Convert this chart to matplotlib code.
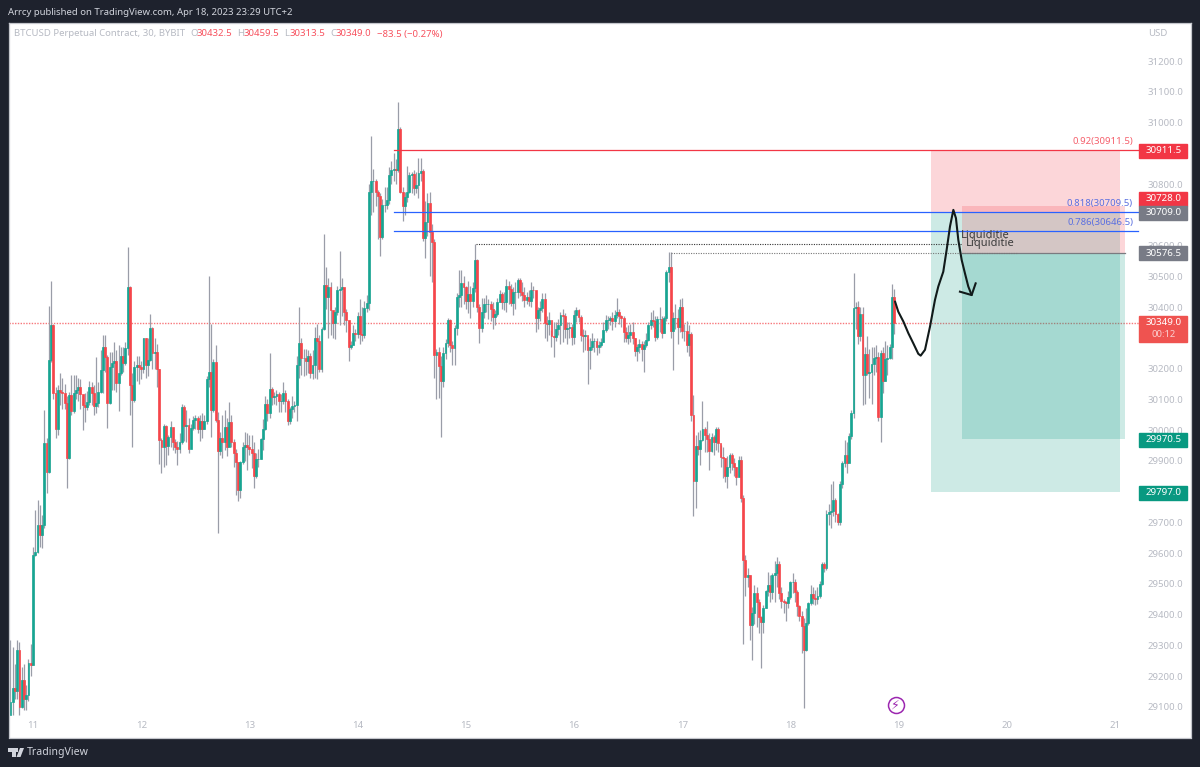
import matplotlib
matplotlib.use("Agg")
import matplotlib.pyplot as plt
from matplotlib.patches import Polygon, Rectangle
from matplotlib.transforms import blended_transform_factory

plt.rcParams['font.family'] = ['Noto Sans', 'DejaVu Sans']

FIRST_OPEN = 29073
FIRST_DAY = 10 + 38 / 48

closes = [
    29117, 29160, 29150, 29285, 29100, 29187, 29127, 29140, 29241, 29235,
    29593, 29604, 29691, 29658, 29691, 29959, 29862, 30228,
    30342, 30119, 30005, 30130, 30125, 30120, 30087, 29910,
    30114, 30062, 30120, 30130, 30141, 30117, 30081, 30076,
    30090, 30141, 30119, 30079, 30088, 30125, 30195, 30271,
    30239, 30087, 30206, 30217, 30225, 30152, 30184, 30241,
    30217, 30266, 30464, 30146, 30098, 30204, 30212, 30205,
    30200, 30298, 30211, 30228, 30331, 30250, 30255, 30198,
    29968, 29945, 30014, 29949, 29978, 30010, 29962, 29945,
    29937, 29960, 30076, 30014, 30015, 29940, 30008, 30032,
    30040, 30005, 30030, 30005, 30030, 30165, 30190, 30065,
    30222, 30032, 29932, 29973, 29960, 30010, 29945, 30025,
    29962, 29925, 29895, 29805, 29897, 29945, 29950, 29945,
    29940, 29925, 29850, 29905, 29905, 29971, 30005, 30085,
    30056, 30135, 30108, 30110, 30118, 30095, 30096, 30122,
    30095, 30030, 30070, 30078, 30080, 30210, 30282, 30233,
    30233, 30225, 30240, 30187, 30212, 30298, 30290, 30198,
    30328, 30472, 30434, 30466, 30390, 30347, 30385, 30456,
    30460, 30466, 30385, 30358, 30271, 30276, 30315, 30312,
    30372, 30311, 30308, 30396, 30412, 30775, 30810, 30810,
    30775, 30760, 30629, 30732, 30732, 30748, 30829, 30846,
    30848, 30846, 30978, 30775, 30729, 30759, 30775, 30829,
    30833, 30786, 30797, 30835, 30844, 30624, 30678, 30737,
    30645, 30610, 30244, 30255, 30208, 30158, 30250, 30282,
    30358, 30277, 30266, 30331, 30434, 30439, 30479, 30466,
    30421, 30443, 30421, 30461, 30553, 30401, 30331, 30385,
    30409, 30411, 30411, 30395, 30367, 30378, 30418, 30443,
    30418, 30418, 30468, 30458, 30412, 30450, 30450, 30488,
    30450, 30440, 30423, 30434, 30421, 30456, 30455, 30363,
    30390, 30396, 30426, 30347, 30344, 30358, 30306, 30302,
    30328, 30342, 30374, 30370, 30328, 30332, 30335, 30304,
    30374, 30390, 30369, 30309, 30306, 30308, 30260, 30271,
    30291, 30291, 30271, 30277, 30285, 30325, 30358, 30358,
    30363, 30354, 30374, 30383, 30371, 30363, 30320, 30298,
    30309, 30320, 30298, 30258, 30269, 30280, 30265, 30276,
    30293, 30342, 30358, 30355, 30304, 30361, 30361, 30317,
    30363, 30515, 30529, 30323, 30366, 30366, 30334, 30401,
    30323, 30323, 30276, 30312, 30049, 29835, 29949, 29940,
    29968, 30003, 29983, 29970, 29932, 29976, 29962, 30003,
    29959, 29913, 29908, 29850, 29881, 29919, 29892, 29880,
    29846, 29903, 29778, 29577, 29523, 29528, 29366, 29406,
    29469, 29442, 29391, 29375, 29422, 29476, 29495, 29474,
    29529, 29534, 29566, 29471, 29445, 29442, 29436, 29458,
    29505, 29505, 29474, 29429, 29396, 29364, 29285, 29371,
    29436, 29466, 29453, 29450, 29460, 29498, 29564, 29553,
    29727, 29732, 29737, 29772, 29727, 29700, 29824, 29894,
    29919, 29892, 29980, 30054, 30396, 30401, 30307, 30379,
    30179, 30246, 30184, 30190, 30214, 30235, 30239, 30043,
    30249, 30161, 30230, 30234, 30271, 30432, 30349,
]

highs = [
    29317, 29295, 29240, 29317, 29310, 29230, 29240, 29170, 29257, 29305,
    29620, 29740, 29773, 29755, 29725, 30065, 29973, 30404,
    30485, 30345, 30140, 30145, 30185, 30170, 30150, 30110,
    30125, 30180, 30178, 30178, 30168, 30165, 30115, 30120,
    30128, 30160, 30155, 30145, 30237, 30155, 30260, 30309,
    30309, 30245, 30255, 30253, 30285, 30260, 30275, 30270,
    30270, 30285, 30594, 30470, 30185, 30225, 30240, 30240,
    30225, 30300, 30300, 30300, 30377, 30335, 30300, 30280,
    30200, 29975, 30020, 30018, 29985, 30030, 30000, 29970,
    29965, 29990, 30085, 30083, 30065, 30040, 30020, 30045,
    30050, 30045, 30050, 30055, 30050, 30175, 30501, 30345,
    30230, 30275, 30060, 29995, 30050, 30065, 30040, 30090,
    30050, 29970, 29940, 29885, 29900, 29960, 29995, 29990,
    29985, 29985, 29960, 29925, 29940, 29975, 30035, 30110,
    30100, 30252, 30140, 30125, 30130, 30125, 30118, 30155,
    30130, 30100, 30075, 30110, 30095, 30240, 30400, 30300,
    30265, 30265, 30260, 30250, 30260, 30336, 30345, 30310,
    30335, 30637, 30530, 30495, 30480, 30360, 30400, 30470,
    30582, 30495, 30400, 30395, 30290, 30290, 30340, 30330,
    30385, 30425, 30400, 30420, 30440, 30800, 30957, 30850,
    30815, 30780, 30770, 30750, 30790, 30790, 30855, 30875,
    30900, 30880, 31068, 30985, 30790, 30775, 30860, 30840,
    30840, 30845, 30840, 30885, 30885, 30850, 30745, 30770,
    30775, 30670, 30620, 30265, 30270, 30240, 30270, 30295,
    30365, 30360, 30290, 30340, 30445, 30520, 30520, 30500,
    30470, 30485, 30470, 30480, 30604, 30555, 30410, 30430,
    30430, 30440, 30425, 30420, 30415, 30390, 30430, 30455,
    30450, 30450, 30490, 30485, 30475, 30465, 30480, 30495,
    30495, 30480, 30465, 30450, 30455, 30480, 30470, 30445,
    30400, 30420, 30445, 30445, 30370, 30385, 30325, 30350,
    30350, 30360, 30385, 30395, 30380, 30350, 30350, 30345,
    30390, 30400, 30395, 30375, 30330, 30325, 30295, 30300,
    30315, 30300, 30300, 30290, 30300, 30350, 30375, 30370,
    30372, 30385, 30390, 30428, 30395, 30375, 30370, 30335,
    30340, 30345, 30350, 30300, 30280, 30295, 30290, 30290,
    30315, 30350, 30385, 30390, 30370, 30370, 30400, 30370,
    30370, 30522, 30578, 30578, 30385, 30410, 30395, 30425,
    30428, 30345, 30355, 30340, 30320, 30115, 29985, 29995,
    30000, 30095, 30010, 30030, 29990, 29990, 29985, 30010,
    30010, 29950, 29945, 29870, 29915, 29925, 29925, 29910,
    29880, 29915, 29915, 29790, 29595, 29550, 29530, 29425,
    29495, 29490, 29450, 29395, 29430, 29480, 29540, 29530,
    29535, 29575, 29588, 29575, 29490, 29450, 29445, 29475,
    29510, 29535, 29515, 29480, 29430, 29410, 29390, 29420,
    29440, 29495, 29490, 29480, 29490, 29510, 29570, 29570,
    29740, 29760, 29825, 29835, 29780, 29730, 29835, 29900,
    29968, 29960, 29990, 30065, 30510, 30415, 30420, 30400,
    30400, 30270, 30305, 30265, 30270, 30270, 30275, 30255,
    30260, 30270, 30290, 30275, 30280, 30475, 30459,
]

lows = [
    29073, 29073, 29125, 29125, 29073, 29095, 29090, 29090, 29120, 29200,
    29235, 29590, 29600, 29620, 29615, 29680, 29794, 29860,
    30220, 30100, 29975, 29985, 30080, 30070, 30070, 29810,
    29905, 30050, 30055, 30100, 30095, 30070, 30000, 30027,
    30065, 30080, 30080, 30050, 30055, 30075, 30120, 30120,
    30190, 30008, 30085, 30130, 30130, 30125, 30062, 30180,
    30190, 30210, 30245, 30050, 29945, 30090, 30160, 30150,
    30165, 30185, 30170, 30175, 30225, 30200, 30200, 30140,
    29890, 29860, 29880, 29885, 29920, 29945, 29935, 29925,
    29885, 29925, 29955, 29965, 29960, 29925, 29970, 30000,
    30005, 29990, 29965, 29975, 30005, 30020, 30140, 29978,
    30060, 30025, 29664, 29920, 29910, 29935, 29915, 29965,
    29945, 29880, 29790, 29770, 29780, 29890, 29900, 29870,
    29920, 29875, 29810, 29845, 29880, 29905, 29935, 30000,
    30030, 30040, 30080, 30085, 30080, 30060, 30060, 30085,
    30060, 30015, 30020, 30040, 30060, 30030, 30170, 30180,
    30175, 30180, 30185, 30170, 30165, 30168, 30165, 30190,
    30190, 30325, 30395, 30300, 30310, 30300, 30295, 30375,
    30340, 30370, 30340, 30320, 30225, 30265, 30280, 30290,
    30300, 30280, 30290, 30300, 30385, 30390, 30700, 30710,
    30730, 30620, 30565, 30620, 30710, 30720, 30735, 30800,
    30810, 30800, 30840, 30770, 30680, 30700, 30740, 30770,
    30770, 30765, 30770, 30755, 30810, 30615, 30560, 30630,
    30500, 30480, 30170, 30100, 30105, 29979, 30140, 30230,
    30270, 30255, 30210, 30210, 30310, 30400, 30400, 30410,
    30395, 30380, 30365, 30400, 30450, 30385, 30282, 30320,
    30365, 30385, 30360, 30355, 30330, 30340, 30370, 30415,
    30395, 30390, 30385, 30410, 30405, 30375, 30395, 30430,
    30435, 30420, 30400, 30410, 30405, 30400, 30430, 30320,
    30330, 30355, 30385, 30300, 30290, 30310, 30270, 30237,
    30290, 30310, 30280, 30285, 30300, 30280, 30300, 30275,
    30280, 30350, 30350, 30290, 30255, 30260, 30150, 30200,
    30260, 30255, 30245, 30250, 30270, 30285, 30320, 30330,
    30340, 30325, 30335, 30365, 30345, 30335, 30285, 30285,
    30280, 30285, 30280, 30240, 30225, 30250, 30225, 30190,
    30270, 30290, 30330, 30335, 30290, 30295, 30320, 30300,
    30315, 30355, 30480, 30300, 30195, 30330, 30280, 30320,
    30300, 30290, 30255, 30240, 30030, 29720, 29745, 29920,
    29885, 29965, 29930, 29930, 29870, 29930, 29920, 29935,
    29930, 29880, 29845, 29830, 29810, 29860, 29870, 29850,
    29820, 29850, 29765, 29303, 29460, 29490, 29317, 29252,
    29370, 29360, 29340, 29225, 29340, 29420, 29460, 29440,
    29450, 29440, 29490, 29450, 29420, 29405, 29380, 29420,
    29450, 29470, 29440, 29395, 29380, 29275, 29095, 29280,
    29365, 29430, 29435, 29430, 29435, 29455, 29495, 29540,
    29545, 29690, 29680, 29720, 29700, 29690, 29690, 29810,
    29880, 29860, 29895, 29970, 30040, 30330, 30280, 30290,
    30080, 30085, 30180, 30105, 30085, 30180, 30190, 30030,
    29962, 30120, 30160, 30180, 30230, 30230, 30313,
]

# hand drawn path on top of the chart (day, price)
path_days = [18.967, 18.997, 19.044, 19.090, 19.136, 19.182, 19.204, 19.244, 19.290, 19.336, 19.367,
             19.413, 19.444, 19.475, 19.506, 19.530, 19.552, 19.583, 19.613, 19.644, 19.675]
path_prices = [30418, 30385, 30353, 30315, 30282, 30248, 30242, 30261, 30336, 30423, 30467,
               30515, 30586, 30662, 30716, 30689, 30618, 30553, 30510, 30467, 30439]
head_days = [19.567, 19.675, 19.712]
head_prices = [30450, 30439, 30477]

# 30900, 30700, 30300 and 29800 sit fully under the price boxes in the reference
price_ticks = [29100, 29200, 29300, 29400, 29500, 29600, 29700, 29900, 30000, 30100, 30200,
               30400, 30500, 30600, 30800, 31000, 31100, 31200]
day_ticks = [11, 12, 13, 14, 15, 16, 17, 18, 19, 20, 21]

GREEN = "#17a592"
RED = "#f6454a"
WICK = "#9a9da8"
DARK = "#1e222d"
TICK = "#b7bac3"
FS = 6.9

W, H = 1200, 767
L, R, T, B = 8.5, 1191, 23, 737.5


def px_day(px):
    return 11 + (px - 33) / 108.2


def px_price(py):
    return 30100 + (399.3 - py) * 3.252


fig = plt.figure(figsize=(W / 100, H / 100), dpi=100, facecolor=DARK)
ax = fig.add_axes([L / W, 1 - B / H, (R - L) / W, (B - T) / H])
ax.set_xlim(px_day(L), px_day(R))
ax.set_ylim(px_price(B), px_price(T))
for s in ax.spines.values():
    s.set_color("#c4c6cc")
    s.set_linewidth(0.9)

ax.yaxis.tick_right()
ax.set_yticks(price_ticks)
ax.set_yticklabels([f"{p:.1f}" for p in price_ticks])
ax.set_xticks(day_ticks)
ax.tick_params(axis='y', length=0, pad=-31, labelsize=FS, labelcolor=TICK)
ax.tick_params(axis='x', length=0, pad=-12, labelsize=FS, labelcolor=TICK)

# candles
opens = [FIRST_OPEN] + closes[:-1]
for i, (o, h, l, c) in enumerate(zip(opens, highs, lows, closes, strict=True)):
    x = FIRST_DAY + i / 48
    col = GREEN if c >= o else RED
    ax.vlines(x, l, h, color=WICK, linewidth=0.9, zorder=1.5)
    ax.bar(x, abs(c - o), bottom=min(o, c), width=0.0175, color=col, edgecolor=col, linewidth=0.5, zorder=2)

# last price line
ax.plot([px_day(L), px_day(1139)], [30349, 30349], color="#f7777b", linestyle=(0, (1, 1)), linewidth=1.0, zorder=1)

# position boxes
ax.fill_between([px_day(931), px_day(1120)], 30709, 30911.5, color="#f23645", alpha=0.2, linewidth=0, zorder=3)
ax.fill_between([px_day(931), px_day(1120)], 29797, 30709, color="#089981", alpha=0.2, linewidth=0, zorder=3)
ax.fill_between([px_day(962), px_day(1124.7)], 30576.5, 30728, color="#f23645", alpha=0.2, linewidth=0, zorder=3)
ax.fill_between([px_day(962), px_day(1124.7)], 29970.5, 30576.5, color="#089981", alpha=0.2, linewidth=0, zorder=3)

# fib levels
ax.plot([px_day(394), px_day(1138)], [30911.5, 30911.5], color="#f23645", linewidth=0.9, zorder=4)
ax.plot([px_day(394), px_day(1138)], [30709.5, 30709.5], color="#2962ff", linewidth=0.9, zorder=4)
ax.plot([px_day(394), px_day(1138)], [30646.5, 30646.5], color="#2962ff", linewidth=0.9, zorder=4)
ax.plot([px_day(962), px_day(1125)], [30576.5, 30576.5], color="#7a7a80", linewidth=0.9, zorder=4)
ax.text(px_day(1133), 30939, "0.92(30911.5)", color="#f5606c", fontsize=FS, ha='right', va='center', zorder=6)
ax.text(px_day(1133), 30737, "0.818(30709.5)", color="#5a6fe0", fontsize=FS, ha='right', va='center', zorder=6)
ax.text(px_day(1133), 30675, "0.786(30646.5)", color="#5a6fe0", fontsize=FS, ha='right', va='center', zorder=6)

# liquidity lines
ax.plot([px_day(476), px_day(962)], [30604, 30604], color="#333333", linestyle=(0, (1, 1.2)), linewidth=0.8, zorder=4)
ax.plot([px_day(671), px_day(1018)], [30577, 30577], color="#777777", linestyle=(0, (1, 1.2)), linewidth=0.8, zorder=4)
ax.text(px_day(961), px_price(235.5), "Liquiditie", color="#3c3c3c", fontsize=8, ha='left', va='center', zorder=6)
ax.text(px_day(966), px_price(243.5), "Liquiditie", color="#3c3c3c", fontsize=8, ha='left', va='center', zorder=6)

# hand drawn arrow
ax.plot(path_days, path_prices, color="#111a1a", linewidth=1.5, zorder=7, solid_capstyle='round', solid_joinstyle='round')
ax.plot(head_days, head_prices, color="#111a1a", linewidth=1.5, zorder=7)

# price labels on the scale
blend = blended_transform_factory(ax.transAxes, ax.transData)
bx = (1139.3 - L) / (R - L)
bw = 48 / (R - L)
tx = bx + bw / 2


def price_box(py, text, color):
    ax.add_patch(Rectangle((bx, px_price(py + 7)), bw, 14 * 3.252, transform=blend, color=color, zorder=8, clip_on=False))
    ax.text(tx, px_price(py), text, transform=blend, color="white", fontsize=7.0, fontweight='bold',
            ha='center', va='center', zorder=9)


price_box(150.7, "30911.5", "#f23645")
price_box(199, "30728.0", "#f23645")
price_box(213, "30709.0", "#787b86")
price_box(253.5, "30576.5", "#787b86")
price_box(440, "29970.5", "#089981")
price_box(493, "29797.0", "#089981")
ax.add_patch(Rectangle((bx, px_price(342)), bw, 26 * 3.252, transform=blend, color="#ef5350", zorder=8))
ax.text(tx, px_price(323), "30349.0", transform=blend, color="white", fontsize=7.0, fontweight='bold', ha='center', va='center', zorder=9)
ax.text(tx, px_price(335), "00:12", transform=blend, color="#fbd0d0", fontsize=6.8, ha='center', va='center', zorder=9)

# lightning marker
ax.plot([px_day(895.5)], [px_price(705)], marker='o', markersize=11.5, markerfacecolor='none',
        markeredgecolor="#9c27b0", markeredgewidth=1.1, zorder=6)
ax.text(px_day(895.5), px_price(705), "\u26a1", color="#9c27b0", fontsize=9, ha='center', va='center',
        family='DejaVu Sans', zorder=6)

# header + legend text
fig.text(8 / W, 1 - 12.5 / H, "Arrcy published on TradingView.com, Apr 18, 2023 23:29 UTC+2", color="#d1d4dc",
         fontsize=FS, ha='left', va='center')
legend = [
    (14.5, "BTCUSD Perpetual Contract, 30, BYBIT", TICK),
    (190, "O", TICK), (196.7, "30432.5", "#f7525f"),
    (237.3, "H", TICK), (244, "30459.5", "#f7525f"),
    (284.3, "L", TICK), (290, "30313.5", "#f7525f"),
    (330, "C", TICK), (336, "30349.0", "#f7525f"),
    (376.7, "\u221283.5 (\u22120.27%)", "#f7525f"),
]
for x, s, c in legend:
    fig.text(x / W, 1 - 34 / H, s, color=c, fontsize=FS, ha='left', va='center')
fig.text(1148 / W, 1 - 33.5 / H, "USD", color=TICK, fontsize=FS, ha='left', va='center')


# TradingView logo
def px_xy(pts):
    return [(x / W, 1 - y / H) for x, y in pts]


fig.add_artist(Polygon(px_xy([(8.3, 748), (15.5, 748), (15.5, 757), (12, 757), (12, 751.5), (8.3, 751.5)]),
                       transform=fig.transFigure, color="#d1d4dc", linewidth=0))
fig.add_artist(Polygon(px_xy([(20, 748), (24, 748), (20.5, 757), (16.5, 757)]),
                       transform=fig.transFigure, color="#d1d4dc", linewidth=0))
fig.add_artist(Polygon(px_xy([(16.3, 748.2), (18.3, 748.2), (18.3, 751.5), (16.3, 751.5)]),
                       transform=fig.transFigure, color="#d1d4dc", linewidth=0))
fig.text(27 / W, 1 - 752.5 / H, "TradingView", color="#d1d4dc", fontsize=7.6, ha='left', va='center')

fig.savefig("out.png", dpi=100, facecolor=DARK)
